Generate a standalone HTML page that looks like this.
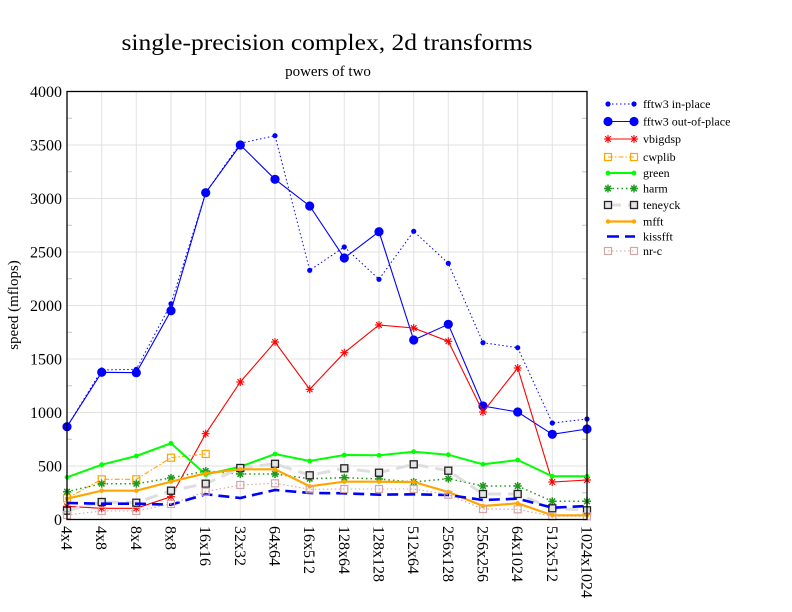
<!DOCTYPE html>
<html><head><meta charset="utf-8"><style>
html,body{margin:0;padding:0;background:#fff;}
svg{display:block;font-family:"Liberation Serif","DejaVu Serif",serif;}
</style></head><body>
<svg width="792" height="612" viewBox="0 0 792 612" xmlns="http://www.w3.org/2000/svg">
<defs>
<marker id="dotS" markerUnits="userSpaceOnUse" markerWidth="10" markerHeight="10" refX="5" refY="5" overflow="visible"><circle cx="5" cy="5" r="2.6" fill="#0000ff"/></marker>
<marker id="dotL" markerUnits="userSpaceOnUse" markerWidth="12" markerHeight="12" refX="6" refY="6" overflow="visible"><circle cx="6" cy="6" r="4.6" fill="#0000ff"/></marker>
<marker id="astR" markerUnits="userSpaceOnUse" markerWidth="10" markerHeight="10" refX="5" refY="5" overflow="visible"><g stroke="#ff0000" stroke-width="1.1"><line x1="1" y1="5" x2="9" y2="5"/><line x1="5" y1="1" x2="5" y2="9"/><line x1="2.2" y1="2.2" x2="7.8" y2="7.8"/><line x1="2.2" y1="7.8" x2="7.8" y2="2.2"/></g></marker>
<marker id="sqO" markerUnits="userSpaceOnUse" markerWidth="10" markerHeight="10" refX="5" refY="5" overflow="visible"><rect x="1.5" y="1.5" width="7" height="7" fill="none" stroke="#ffa500" stroke-width="1.2"/></marker>
<marker id="dotG" markerUnits="userSpaceOnUse" markerWidth="10" markerHeight="10" refX="5" refY="5" overflow="visible"><circle cx="5" cy="5" r="2.4" fill="#00ff00"/></marker>
<marker id="astG" markerUnits="userSpaceOnUse" markerWidth="10" markerHeight="10" refX="5" refY="5" overflow="visible"><g stroke="#1e9a1e" stroke-width="1.5"><line x1="1" y1="5" x2="9" y2="5"/><line x1="5" y1="1" x2="5" y2="9"/><line x1="2.2" y1="2.2" x2="7.8" y2="7.8"/><line x1="2.2" y1="7.8" x2="7.8" y2="2.2"/></g></marker>
<marker id="sqK" markerUnits="userSpaceOnUse" markerWidth="12" markerHeight="12" refX="6" refY="6" overflow="visible"><rect x="2.5" y="2.5" width="7" height="7" fill="#e4e4e4" stroke="#222" stroke-width="1.3"/></marker>
<marker id="dotO" markerUnits="userSpaceOnUse" markerWidth="10" markerHeight="10" refX="5" refY="5" overflow="visible"><circle cx="5" cy="5" r="2.2" fill="#ffa500"/></marker>
<marker id="sqP" markerUnits="userSpaceOnUse" markerWidth="10" markerHeight="10" refX="5" refY="5" overflow="visible"><rect x="1.5" y="1.5" width="7" height="7" fill="none" stroke="#d2a6a6" stroke-width="1.2"/></marker>
</defs>

<text x="327" y="50" font-size="23" text-anchor="middle" textLength="411" lengthAdjust="spacingAndGlyphs">single-precision complex, 2d transforms</text>
<text x="328" y="76" font-size="15" text-anchor="middle">powers of two</text>

<g stroke="#e2e2e2" stroke-width="1">
<line x1="67" y1="466" x2="587" y2="466"/>
<line x1="67" y1="412.5" x2="587" y2="412.5"/>
<line x1="67" y1="359" x2="587" y2="359"/>
<line x1="67" y1="305.5" x2="587" y2="305.5"/>
<line x1="67" y1="252" x2="587" y2="252"/>
<line x1="67" y1="198.5" x2="587" y2="198.5"/>
<line x1="67" y1="145" x2="587" y2="145"/>
<line x1="101.7" y1="91.5" x2="101.7" y2="519.5"/>
<line x1="136.3" y1="91.5" x2="136.3" y2="519.5"/>
<line x1="171" y1="91.5" x2="171" y2="519.5"/>
<line x1="205.7" y1="91.5" x2="205.7" y2="519.5"/>
<line x1="240.3" y1="91.5" x2="240.3" y2="519.5"/>
<line x1="275" y1="91.5" x2="275" y2="519.5"/>
<line x1="309.7" y1="91.5" x2="309.7" y2="519.5"/>
<line x1="344.3" y1="91.5" x2="344.3" y2="519.5"/>
<line x1="379" y1="91.5" x2="379" y2="519.5"/>
<line x1="413.7" y1="91.5" x2="413.7" y2="519.5"/>
<line x1="448.3" y1="91.5" x2="448.3" y2="519.5"/>
<line x1="483" y1="91.5" x2="483" y2="519.5"/>
<line x1="517.7" y1="91.5" x2="517.7" y2="519.5"/>
<line x1="552.3" y1="91.5" x2="552.3" y2="519.5"/>
</g>
<g stroke="#c4c4c4" stroke-width="1">
<line x1="67" y1="492.75" x2="72" y2="492.75"/><line x1="582" y1="492.75" x2="587" y2="492.75"/>
<line x1="67" y1="439.25" x2="72" y2="439.25"/><line x1="582" y1="439.25" x2="587" y2="439.25"/>
<line x1="67" y1="385.75" x2="72" y2="385.75"/><line x1="582" y1="385.75" x2="587" y2="385.75"/>
<line x1="67" y1="332.25" x2="72" y2="332.25"/><line x1="582" y1="332.25" x2="587" y2="332.25"/>
<line x1="67" y1="278.75" x2="72" y2="278.75"/><line x1="582" y1="278.75" x2="587" y2="278.75"/>
<line x1="67" y1="225.25" x2="72" y2="225.25"/><line x1="582" y1="225.25" x2="587" y2="225.25"/>
<line x1="67" y1="171.75" x2="72" y2="171.75"/><line x1="582" y1="171.75" x2="587" y2="171.75"/>
<line x1="67" y1="118.25" x2="72" y2="118.25"/><line x1="582" y1="118.25" x2="587" y2="118.25"/>
</g>

<g fill="none">
<polyline stroke="#0000ff" stroke-width="1" stroke-dasharray="1.5,2.5" marker-start="url(#dotS)" marker-mid="url(#dotS)" marker-end="url(#dotS)"
 points="67,426.7 101.7,370 136.3,369.3 171,303.7 205.7,192.7 240.3,143.3 275,135.7 309.7,270.3 344.3,247 379,279.3 413.7,231.3 448.3,263.3 483,342.7 517.7,347.7 552.3,423 587,419"/>
<polyline stroke="#0000ff" stroke-width="1.1" marker-start="url(#dotL)" marker-mid="url(#dotL)" marker-end="url(#dotL)"
 points="67,426.7 101.7,372.3 136.3,372.7 171,310.7 205.7,192.7 240.3,145 275,179.3 309.7,206 344.3,258 379,231.7 413.7,340 448.3,324.3 483,406 517.7,412 552.3,434.3 587,429"/>
<polyline stroke="#ff0000" stroke-width="1.1" marker-start="url(#astR)" marker-mid="url(#astR)" marker-end="url(#astR)"
 points="67,506.3 101.7,508.3 136.3,508.3 171,496.7 205.7,433.7 240.3,382 275,342 309.7,389.3 344.3,352.7 379,325 413.7,328 448.3,341.3 483,412 517.7,368 552.3,482 587,480"/>
<polyline stroke="#ffa500" stroke-width="1.1" stroke-dasharray="5,2,1.5,2" marker-start="url(#sqO)" marker-mid="url(#sqO)" marker-end="url(#sqO)"
 points="67,498.3 101.7,479.3 136.3,479.3 171,457.7 205.7,454"/>
<polyline stroke="#00ff00" stroke-width="2" marker-start="url(#dotG)" marker-mid="url(#dotG)" marker-end="url(#dotG)"
 points="67,477.3 101.7,464.7 136.3,456 171,443.3 205.7,474.5 240.3,466.7 275,454 309.7,461 344.3,455 379,455.3 413.7,451.7 448.3,454.7 483,464.3 517.7,460 552.3,476.3 587,476.3"/>
<polyline stroke="#1e9a1e" stroke-width="1.5" stroke-dasharray="1.5,3" marker-start="url(#astG)" marker-mid="url(#astG)" marker-end="url(#astG)"
 points="67,491.7 101.7,483.7 136.3,483.7 171,478 205.7,471 240.3,474 275,474 309.7,478.7 344.3,477.7 379,479 413.7,482 448.3,478.7 483,486 517.7,486 552.3,501.3 587,501.3"/>
<polyline stroke="#dedede" stroke-width="3" stroke-dasharray="13,7" marker-start="url(#sqK)" marker-mid="url(#sqK)" marker-end="url(#sqK)"
 points="67,510.7 101.7,502 136.3,502.7 171,490.7 205.7,483.7 240.3,468 275,463.8 309.7,475.3 344.3,468.3 379,472.7 413.7,464.3 448.3,470.7 483,494 517.7,494 552.3,508.3 587,510.3"/>
<polyline stroke="#ffa500" stroke-width="2.2" marker-start="url(#dotO)" marker-mid="url(#dotO)" marker-end="url(#dotO)"
 points="67,498.7 101.7,490.7 136.3,490.7 171,481.7 205.7,473.3 240.3,469.3 275,469.3 309.7,486.3 344.3,481.7 379,481.7 413.7,482 448.3,492 483,506 517.7,503.3 552.3,515.3 587,515.3"/>
<polyline stroke="#0000ff" stroke-width="2.6" stroke-dasharray="11,6"
 points="67,503 101.7,503.7 136.3,503.7 171,504.7 205.7,494.3 240.3,498 275,490 309.7,493 344.3,493.3 379,494.7 413.7,494.3 448.3,495 483,500 517.7,498.7 552.3,507.7 587,506"/>
<polyline stroke="#d2a6a6" stroke-width="1.1" stroke-dasharray="1.5,2.5" marker-start="url(#sqP)" marker-mid="url(#sqP)" marker-end="url(#sqP)"
 points="67,515 101.7,511 136.3,511 171,504 205.7,491.7 240.3,485 275,483.3 309.7,489.3 344.3,489 379,489 413.7,489 448.3,494.7 483,509 517.7,509.3 552.3,516.3 587,516.3"/>
</g>

<rect x="67" y="91.5" width="520" height="428" fill="none" stroke="#000" stroke-width="1.3"/>

<g font-size="16" text-anchor="end">
<text x="62" y="525">0</text>
<text x="62" y="471.5">500</text>
<text x="62" y="418">1000</text>
<text x="62" y="364.5">1500</text>
<text x="62" y="311">2000</text>
<text x="62" y="257.5">2500</text>
<text x="62" y="204">3000</text>
<text x="62" y="150.5">3500</text>
<text x="62" y="97">4000</text>
</g>
<text transform="translate(18,305) rotate(-90)" font-size="15" text-anchor="middle">speed (mflops)</text>

<g font-size="16">
<text transform="translate(67,526) rotate(90)" x="0" y="5.5">4x4</text>
<text transform="translate(101.7,526) rotate(90)" x="0" y="5.5">4x8</text>
<text transform="translate(136.3,526) rotate(90)" x="0" y="5.5">8x4</text>
<text transform="translate(171,526) rotate(90)" x="0" y="5.5">8x8</text>
<text transform="translate(205.7,526) rotate(90)" x="0" y="5.5">16x16</text>
<text transform="translate(240.3,526) rotate(90)" x="0" y="5.5">32x32</text>
<text transform="translate(275,526) rotate(90)" x="0" y="5.5">64x64</text>
<text transform="translate(309.7,526) rotate(90)" x="0" y="5.5">16x512</text>
<text transform="translate(344.3,526) rotate(90)" x="0" y="5.5">128x64</text>
<text transform="translate(379,526) rotate(90)" x="0" y="5.5">128x128</text>
<text transform="translate(413.7,526) rotate(90)" x="0" y="5.5">512x64</text>
<text transform="translate(448.3,526) rotate(90)" x="0" y="5.5">256x128</text>
<text transform="translate(483,526) rotate(90)" x="0" y="5.5">256x256</text>
<text transform="translate(517.7,526) rotate(90)" x="0" y="5.5">64x1024</text>
<text transform="translate(552.3,526) rotate(90)" x="0" y="5.5">512x512</text>
<text transform="translate(587,526) rotate(90)" x="0" y="5.5">1024x1024</text>
</g>

<g fill="none">
<polyline stroke="#0000ff" stroke-width="1" stroke-dasharray="1.5,2.5" marker-start="url(#dotS)" marker-end="url(#dotS)" points="608,104 634,104"/>
<polyline stroke="#0000ff" stroke-width="1.1" marker-start="url(#dotL)" marker-end="url(#dotL)" points="608,121.5 634,121.5"/>
<polyline stroke="#ff0000" stroke-width="1.1" marker-start="url(#astR)" marker-end="url(#astR)" points="608,139 634,139"/>
<polyline stroke="#ffa500" stroke-width="1.1" stroke-dasharray="5,2,1.5,2" marker-start="url(#sqO)" marker-end="url(#sqO)" points="608,157 634,157"/>
<polyline stroke="#00ff00" stroke-width="2" marker-start="url(#dotG)" marker-end="url(#dotG)" points="608,173 634,173"/>
<polyline stroke="#1e9a1e" stroke-width="1.5" stroke-dasharray="1.5,3" marker-start="url(#astG)" marker-end="url(#astG)" points="608,188.5 634,188.5"/>
<polyline stroke="#dedede" stroke-width="3" stroke-dasharray="13,7" marker-start="url(#sqK)" marker-end="url(#sqK)" points="608,205 634,205"/>
<polyline stroke="#ffa500" stroke-width="2.2" marker-start="url(#dotO)" marker-end="url(#dotO)" points="608,221.5 634,221.5"/>
<polyline stroke="#0000ff" stroke-width="2.6" stroke-dasharray="12,6" points="607,236.5 635,236.5"/>
<polyline stroke="#d2a6a6" stroke-width="1.1" stroke-dasharray="1.5,2.5" marker-start="url(#sqP)" marker-end="url(#sqP)" points="608,251 634,251"/>
</g>
<g font-size="12">
<text x="643" y="108">fftw3 in-place</text>
<text x="643" y="125.5">fftw3 out-of-place</text>
<text x="643" y="143">vbigdsp</text>
<text x="643" y="161">cwplib</text>
<text x="643" y="177">green</text>
<text x="643" y="192.5">harm</text>
<text x="643" y="209">teneyck</text>
<text x="643" y="225.5">mfft</text>
<text x="643" y="240.5">kissfft</text>
<text x="643" y="255">nr-c</text>
</g>
</svg>
</body></html>
